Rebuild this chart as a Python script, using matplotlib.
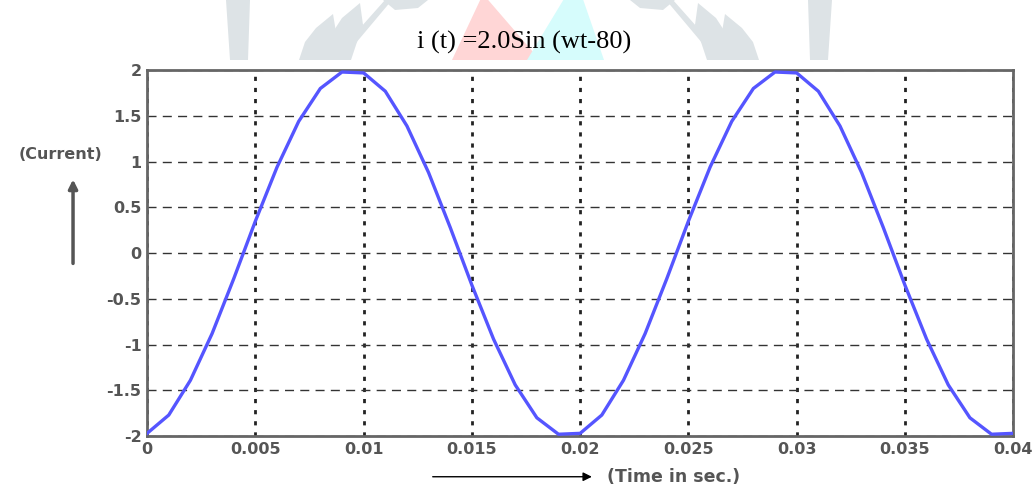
import numpy as np
import matplotlib
matplotlib.use('Agg')
import matplotlib.pyplot as plt
from matplotlib.patches import Polygon, FancyArrowPatch

t = [0.000, 0.001, 0.002, 0.003, 0.004, 0.005, 0.006, 0.007, 0.008, 0.009,
     0.010, 0.011, 0.012, 0.013, 0.014, 0.015, 0.016, 0.017, 0.018, 0.019,
     0.020, 0.021, 0.022, 0.023, 0.024, 0.025, 0.026, 0.027, 0.028, 0.029,
     0.030, 0.031, 0.032, 0.033, 0.034, 0.035, 0.036, 0.037, 0.038, 0.039,
     0.040]
current = [-1.97, -1.77, -1.39, -0.88, -0.28, 0.35, 0.94, 1.44, 1.80, 1.98,
           1.97, 1.77, 1.39, 0.88, 0.28, -0.35, -0.94, -1.44, -1.80, -1.98,
           -1.97, -1.77, -1.39, -0.88, -0.28, 0.35, 0.94, 1.44, 1.80, 1.98,
           1.97, 1.77, 1.39, 0.88, 0.28, -0.35, -0.94, -1.44, -1.80, -1.98,
           -1.97]

xticks = [0, 0.005, 0.01, 0.015, 0.02, 0.025, 0.03, 0.035, 0.04]
xtick_labels = ['0', '0.005', '0.01', '0.015', '0.02', '0.025', '0.03', '0.035', '0.04']
yticks = [-2, -1.5, -1, -0.5, 0, 0.5, 1, 1.5, 2]
ytick_labels = ['-2', '-1.5', '-1', '-0.5', '0', '0.5', '1', '1.5', '2']

W, H = 1036, 484
fig = plt.figure(figsize=(W / 100, H / 100), dpi=100)


def px_poly(pts, color, z=-1):
    # pixel coords (origin top-left) -> figure fraction
    xy = [[x / W, 1 - y / H] for x, y in pts]
    fig.patches.append(Polygon(xy, closed=True, transform=fig.transFigure,
                               facecolor=color, edgecolor='none', zorder=z))


# faint page watermark above the chart (mirrored around x=529)
wm_shapes = [
    [(226, 0), (250, 0), (248, 60), (230, 60)],
    [(299, 60), (305, 42), (316, 28), (333, 14), (336, 32), (330, 50), (326, 60)],
    [(324, 60), (329, 38), (342, 18), (360, 3), (363, 25), (356, 45), (351, 60)],
    [(345, 45), (385, 0), (392, 0), (350, 50)],
    [(383, 0), (428, 0), (418, 8), (395, 10)],
]
for shp in wm_shapes:
    px_poly(shp, '#dde3e6')
    px_poly([(1058 - x, y) for x, y in shp], '#dde3e6')

px_poly([(483, -6), (452, 60), (540, 60)], '#ffd6d6')
px_poly([(576, -21), (527, 60), (604, 60)], '#d6fcfc')

ax = fig.add_axes([0.142, 0.099, 0.836, 0.756])
ax.plot(t, current, color='#5555ff', linewidth=2.4, zorder=3)

ax.set_xlim(0, 0.04)
ax.set_ylim(-2, 2)
ax.set_xticks(xticks)
ax.set_xticklabels(xtick_labels)
ax.set_yticks(yticks)
ax.set_yticklabels(ytick_labels)
ax.tick_params(length=0, labelsize=11.5, colors='#555555', pad=4)
for lab in ax.get_xticklabels() + ax.get_yticklabels():
    lab.set_family('DejaVu Sans')
    lab.set_weight('bold')

ax.xaxis.grid(True, linestyle=(0, (1.5, 2.5)), color='#222222', linewidth=2.0)
ax.yaxis.grid(True, linestyle=(0, (6.5, 4.5)), color='#333333', linewidth=1.0)
for s in ax.spines.values():
    s.set_color('#666666')
    s.set_linewidth(2)

fig.text(0.506, 0.912, 'i (t) =2.0Sin (wt-80)', ha='center', va='center',
         fontsize=19, family='Liberation Serif', color='black')

# y axis hint on the left
fig.text(0.058, 0.680, '(Current)', ha='center', va='center',
         fontsize=11.5, family='DejaVu Sans', weight='bold', color='#555555')
fig.patches.append(FancyArrowPatch(
    (0.0705, 0.450), (0.0705, 0.635), transform=fig.transFigure,
    arrowstyle='-|>', mutation_scale=13, color='#555555', linewidth=2.5))

# x axis hint below
fig.patches.append(FancyArrowPatch(
    (0.415, 0.015), (0.574, 0.015), transform=fig.transFigure,
    arrowstyle='-|>', mutation_scale=13, color='black', linewidth=1))
fig.text(0.586, 0.015, '(Time in sec.)', ha='left', va='center',
         fontsize=12.5, family='DejaVu Sans', weight='bold', color='#555555')

fig.savefig('out.png', dpi=100)
